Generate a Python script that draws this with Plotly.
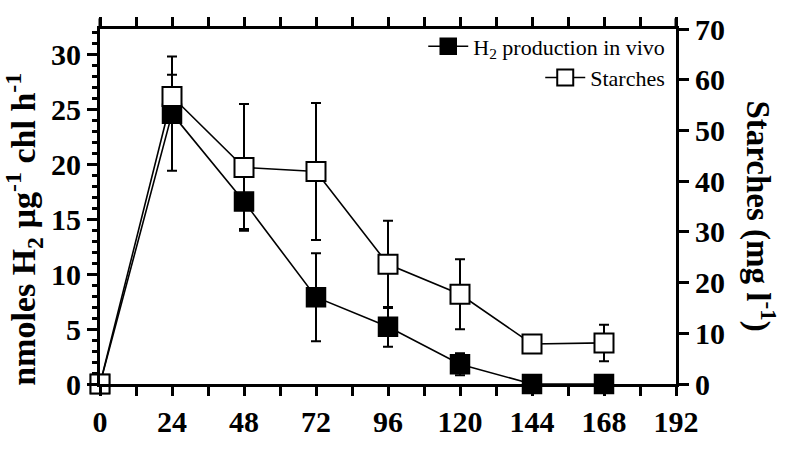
import plotly.graph_objects as go

# Time after sulfur deprivation (h)
hours = [0, 24, 48, 72, 96, 120, 144, 168]

# H2 production in vivo (nmoles H2 ug-1 chl h-1) and its error
h2 = [0, 24.6, 16.6, 7.9, 5.2, 1.8, 0, 0]
h2_err = [0, 5.2, 2.5, 4.0, 1.8, 1.0, 0, 0]

# Starch content (mg l-1) and its error
starch = [0, 56.7, 42.7, 41.9, 23.6, 17.7, 7.9, 8.1]
starch_err = [0, 4.3, 12.5, 13.5, 8.6, 6.9, 0, 3.6]

x_ticks = [0, 24, 48, 72, 96, 120, 144, 168, 192]

SERIF = "Liberation Serif"
bold_tick = dict(family=SERIF, size=30, color="black", weight="bold")

fig = go.Figure()

fig.add_trace(go.Scatter(
    x=hours, y=h2, name="H<sub>2</sub> production in vivo",
    mode="lines+markers", yaxis="y", legend="legend",
    line=dict(color="black", width=1.6),
    marker=dict(symbol="square", size=19, color="black",
                line=dict(color="black", width=1.5)),
    error_y=dict(type="data", array=h2_err, visible=True,
                 color="black", thickness=2, width=5),
    cliponaxis=False,
))

fig.add_trace(go.Scatter(
    x=hours, y=starch, name="Starches",
    mode="lines+markers", yaxis="y2", legend="legend2",
    line=dict(color="black", width=1.6),
    marker=dict(symbol="square", size=19, color="white",
                line=dict(color="black", width=2)),
    error_y=dict(type="data", array=starch_err, visible=True,
                 color="black", thickness=2, width=5),
    cliponaxis=False,
))

legend_font = dict(family=SERIF, size=22, color="black")

fig.update_layout(
    width=786, height=450,
    margin=dict(l=100, r=110, t=25, b=46),
    paper_bgcolor="white", plot_bgcolor="white",
    font=dict(family=SERIF, color="black"),
    xaxis=dict(
        range=[0, 192], tickvals=x_ticks, ticktext=[str(v) for v in x_ticks],
        showgrid=False, zeroline=False,
        showline=True, linecolor="black", linewidth=3, mirror="allticks",
        ticks="outside", ticklen=9, tickwidth=3, tickcolor="black",
        minor=dict(dtick=12, tick0=0, ticks="outside", ticklen=5,
                   tickwidth=3, tickcolor="black", showgrid=False),
        tickfont=bold_tick,
    ),
    yaxis=dict(
        range=[0, 32.3], dtick=5, tick0=0,
        showgrid=False, zeroline=False,
        showline=True, linecolor="black", linewidth=3,
        ticks="outside", ticklen=10, tickwidth=3, tickcolor="black",
        minor=dict(dtick=1, ticks="outside", ticklen=5, tickwidth=3,
                   tickcolor="black", showgrid=False),
        tickfont=bold_tick,
    ),
    yaxis2=dict(
        range=[0, 70], dtick=10, tick0=0, overlaying="y", side="right",
        showgrid=False, zeroline=False,
        showline=True, linecolor="black", linewidth=3,
        ticks="outside", ticklen=10, tickwidth=3, tickcolor="black",
        tickfont=bold_tick,
    ),
    legend=dict(
        x=0.99, y=1.01, xanchor="right", yanchor="top",
        bgcolor="rgba(0,0,0,0)", borderwidth=0,
        font=legend_font, itemsizing="trace", itemwidth=40,
    ),
    legend2=dict(
        x=0.99, y=0.922, xanchor="right", yanchor="top",
        bgcolor="rgba(0,0,0,0)", borderwidth=0,
        font=legend_font, itemsizing="trace", itemwidth=40,
    ),
    showlegend=True,
)

# Axis titles
fig.add_annotation(
    text="nmoles H<sub>2</sub> µg<sup>-1</sup> chl h<sup>-1</sup>",
    xref="paper", yref="paper", x=-0.132, y=0.437,
    xanchor="center", yanchor="middle", textangle=-90, showarrow=False,
    font=dict(family=SERIF, size=34, color="black", weight="bold"),
)
fig.add_annotation(
    text="Starches (mg l<sup>-1</sup>)",
    xref="paper", yref="paper", x=1.147, y=0.473,
    xanchor="center", yanchor="middle", textangle=90, showarrow=False,
    font=dict(family=SERIF, size=33, color="black", weight="bold"),
)

# Vertical axis lines poke slightly above the frame
for xp in (0, 1):
    fig.add_shape(type="line", xref="paper", yref="paper",
                  x0=xp, x1=xp, y0=1, y1=1.03,
                  line=dict(color="black", width=3))

fig.write_html("out.html")
